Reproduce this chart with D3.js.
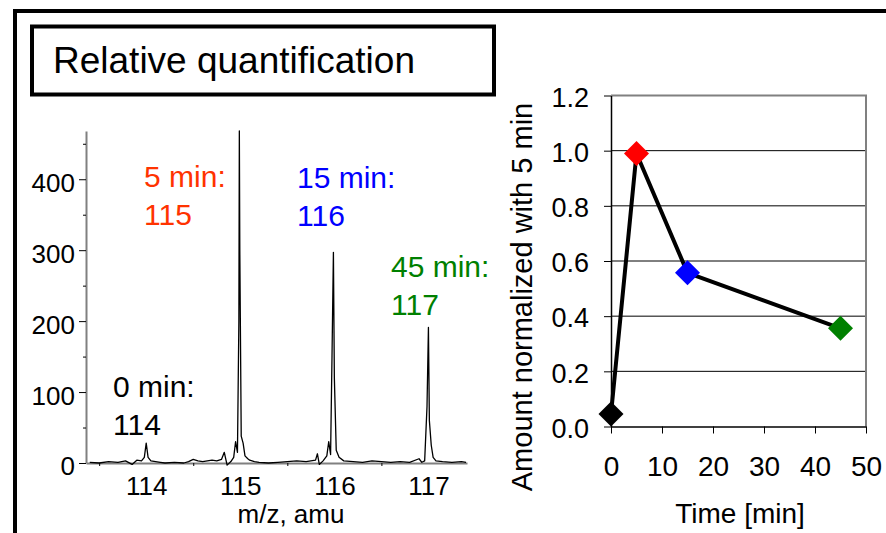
<!DOCTYPE html>
<html>
<head>
<meta charset="utf-8">
<script src="https://cdn.jsdelivr.net/npm/d3@7"></script>
<style>
  html, body { margin: 0; padding: 0; background: #fff; }
  svg { display: block; font-family: "Liberation Sans", Arial, sans-serif; }
</style>
</head>
<body>
<svg id="chart" width="886" height="533"></svg>
<script>
// ---------- Data ----------
const titleText = "Relative quantification";

// Spectrum (m/z, intensity)
const spectrumMz = [113.40,113.50,113.60,113.70,113.78,113.85,113.90,113.95,113.98,114.00,114.02,114.05,114.10,114.15,114.20,114.30,114.40,114.45,114.50,114.55,114.60,114.65,114.70,114.75,114.80,114.83,114.86,114.90,114.93,114.95,114.97,114.985,114.99,114.995,115.01,115.03,115.05,115.08,115.10,115.15,115.20,115.30,115.40,115.50,115.60,115.70,115.80,115.82,115.84,115.88,115.92,115.94,115.96,115.975,115.99,116.00,116.02,116.05,116.10,116.20,116.30,116.40,116.50,116.60,116.70,116.80,116.90,116.93,116.96,116.985,117.00,117.01,117.03,117.05,117.08,117.15,117.25,117.35,117.40];
const spectrumI  = [1,0,2,1,3,-2,4,3,8,28,8,3,2,1,0,1,0,2,5,3,2,3,4,3,5,15,-3,2,8,30,15,200,468,300,38,28,10,6,4,2,1,0,1,2,3,2,4,13,-2,3,10,30,12,150,297,120,18,8,3,2,1,3,2,1,2,1,6,1,3,80,191,60,25,8,3,2,1,2,1];

const leftYTicks = [0,100,200,300,400];
const leftYMinor = [50,150,250,350,450];
const leftXTicks = [114,115,116,117];
const leftXMinor = [113.5,114.5,115.5,116.5];
const leftXLabel = "m/z, amu";

// Annotations on the spectrum
const annLine1 = ["0 min:","5 min:","15 min:","45 min:"];
const annLine2 = ["114","115","116","117"];
const annColors = ["#000000","#ff3300","#0000ff","#008000"];
const annX = [113.647, 113.977, 115.603, 116.602];   // m/z where the label starts
const annY = [93, 389, 388, 262];                    // intensity at first-line baseline

// Time course
const times = [0,5,15,45];
const amounts = [0.045,0.99,0.557,0.356];
const pointColors = ["#000000","#ff0000","#0000ff","#008000"];
const rightYTicks = [0,0.2,0.4,0.6,0.8,1.0,1.2];
const rightXTicks = [0,10,20,30,40,50];
const rightXLabel = "Time [min]";
const rightYLabel = "Amount normalized with 5 min";

// ---------- Drawing ----------
const svg = d3.select("#chart");
svg.append("rect").attr("width",886).attr("height",533).attr("fill","#fff");

// outer frame (clipped at right/bottom)
svg.append("rect").attr("x",15).attr("y",11).attr("width",900).attr("height",600)
  .attr("fill","none").attr("stroke","#000").attr("stroke-width",4);

// title box
svg.append("rect").attr("x",32).attr("y",26.5).attr("width",462).attr("height",68)
  .attr("fill","none").attr("stroke","#000").attr("stroke-width",4);
svg.append("text").attr("x",53).attr("y",73).attr("font-size",37).attr("fill","#000")
  .text(titleText);

// ----- Left: spectrum -----
const xL = d3.scaleLinear().domain([113.36,117.41]).range([86,467]);
const yL = d3.scaleLinear().domain([0,468]).range([463,131]);

const gLY = svg.append("g").attr("transform",`translate(${xL.range()[0]},0)`)
  .call(d3.axisLeft(yL).tickValues(leftYTicks).tickSize(7).tickSizeOuter(0).tickPadding(4));
gLY.select(".domain").attr("stroke","#808080").attr("stroke-width",2);
gLY.selectAll(".tick line").attr("stroke","#000").attr("stroke-width",1);
gLY.selectAll(".tick text").attr("font-size",26).attr("fill","#000").attr("dy","0.46em")
  .attr("font-family","Liberation Sans, Arial, sans-serif");
svg.append("g").attr("transform",`translate(${xL.range()[0]},0)`)
  .call(d3.axisLeft(yL).tickValues(leftYMinor).tickSize(3).tickSizeOuter(0).tickFormat(""))
  .call(g => g.select(".domain").remove())
  .selectAll(".tick line").attr("stroke","#000");

const gLX = svg.append("g").attr("transform",`translate(0,${yL(0)})`)
  .call(d3.axisBottom(xL).tickValues(leftXTicks).tickFormat(d3.format("d")).tickSize(0).tickSizeOuter(0).tickPadding(13.5));
gLX.select(".domain").attr("stroke","#808080").attr("stroke-width",2);
gLX.selectAll(".tick text").attr("font-size",26).attr("fill","#000")
  .attr("font-family","Liberation Sans, Arial, sans-serif");
svg.append("g").attr("transform",`translate(0,${yL(0)})`)
  .call(d3.axisBottom(xL).tickValues(leftXMinor).tickSize(3).tickSizeOuter(0).tickFormat(""))
  .call(g => g.select(".domain").remove())
  .selectAll(".tick line").attr("stroke","#000");

svg.append("text").attr("x",291).attr("y",523).attr("text-anchor","middle")
  .attr("font-size",26).attr("fill","#000").text(leftXLabel);

const spec = spectrumMz.map((m,i)=>[m,spectrumI[i]]);
svg.append("path").datum(spec)
  .attr("d", d3.line().x(d=>xL(d[0])).y(d=>yL(d[1])))
  .attr("fill","none").attr("stroke","#000").attr("stroke-width",1.3).attr("stroke-linejoin","round");

annLine1.forEach((t,i)=>{
  const x = xL(annX[i]), y = yL(annY[i]);
  const tx = svg.append("text").attr("x",x).attr("y",y).attr("font-size",30).attr("fill",annColors[i]);
  tx.append("tspan").attr("x",x).text(t);
  tx.append("tspan").attr("x",x).attr("dy",38).text(annLine2[i]);
});

// ----- Right: time course -----
const xR = d3.scaleLinear().domain([0,50]).range([611,866]);
const yR = d3.scaleLinear().domain([0,1.2]).range([426.5,95.5]);

// gridlines
svg.append("g").selectAll("line").data(rightYTicks.filter(v=>v>0 && v<1.2)).join("line")
  .attr("x1",xR(0)).attr("x2",xR(50)).attr("y1",d=>yR(d)).attr("y2",d=>yR(d))
  .attr("stroke","#000").attr("stroke-width",1);
// gray frame top/right
svg.append("path").attr("d",`M${xR(0)},${yR(1.2)}H${xR(50)}V${yR(0)}`)
  .attr("fill","none").attr("stroke","#808080").attr("stroke-width",2);

const gRY = svg.append("g").attr("transform",`translate(${xR(0)},0)`)
  .call(d3.axisLeft(yR).tickValues(rightYTicks).tickFormat(d3.format(".1f")).tickSize(7).tickSizeOuter(0).tickPadding(15));
gRY.select(".domain").attr("stroke","#000").attr("stroke-width",1.5);
gRY.selectAll(".tick line").attr("stroke","#000");
gRY.selectAll(".tick text").attr("font-size",27).attr("fill","#000").attr("dy","0.4em")
  .attr("font-family","Liberation Sans, Arial, sans-serif");

const gRX = svg.append("g").attr("transform",`translate(0,${yR(0)})`)
  .call(d3.axisBottom(xR).tickValues(rightXTicks).tickSize(7).tickSizeOuter(0).tickPadding(22.5));
gRX.select(".domain").attr("stroke","#000").attr("stroke-width",1.5);
gRX.selectAll(".tick line").attr("stroke","#000");
gRX.selectAll(".tick text").attr("font-size",28).attr("fill","#000")
  .attr("font-family","Liberation Sans, Arial, sans-serif");

svg.append("text").attr("x",740).attr("y",523).attr("text-anchor","middle")
  .attr("font-size",28).attr("fill","#000").text(rightXLabel);
svg.append("text").attr("transform","translate(532,297) rotate(-90)").attr("text-anchor","middle")
  .attr("font-size",29).attr("fill","#000").text(rightYLabel);

const pts = times.map((t,i)=>[t,amounts[i]]);
svg.append("path").datum(pts)
  .attr("d", d3.line().x(d=>xR(d[0])).y(d=>yR(d[1])))
  .attr("fill","none").attr("stroke","#000").attr("stroke-width",4).attr("stroke-linejoin","round");
svg.append("g").selectAll("path").data(pts).join("path")
  .attr("d", d3.symbol(d3.symbolSquare, 312)())
  .attr("transform", d=>`translate(${xR(d[0])},${yR(d[1])}) rotate(45)`)
  .attr("fill",(d,i)=>pointColors[i]);
</script>
</body>
</html>
